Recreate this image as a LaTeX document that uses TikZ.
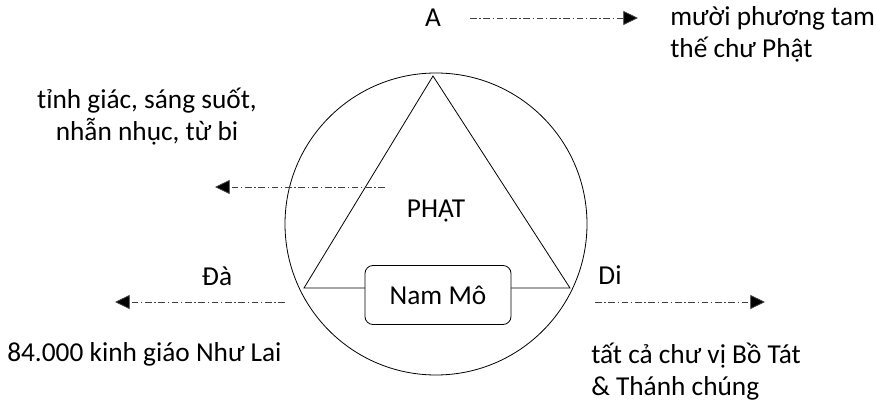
\documentclass[tikz,border=0pt]{standalone}
\usepackage{fontspec}
\setmainfont{Carlito}
\usetikzlibrary{arrows.meta}
\begin{document}
\begin{tikzpicture}[x=0.75pt,y=-0.75pt,
  lbl/.style={font=\fontsize{20.5}{24}\selectfont, inner sep=0pt},
  lblL/.style={lbl, align=left, anchor=west},
  lblC/.style={lbl, align=center},
  ddarrow/.style={draw=black!75, line width=0.6pt, dash pattern=on 5pt off 2pt on 1pt off 2pt, -{Triangle[length=11pt,width=10.5pt,fill=black]}},
  outl/.style={draw=black, line width=0.6pt}]
\useasboundingbox (0,0) rectangle (876,406);
% circle and triangle
\node[outl, circle, minimum size=226.5pt, inner sep=0pt] (circ) at (436,224) {};
\coordinate (apex) at (433,76);
\coordinate (bl) at (304,288);
\coordinate (br) at (570,288);
\draw[outl] (apex) -- (bl) -- (br) -- cycle;
\node[outl, rounded corners=6pt, fill=white, minimum width=109.5pt, minimum height=44.25pt, lbl] (nammo) at (438,295) {Nam Mô};
\node[lbl] (phat) at (436,211) {PHẬT};
% top arrow
\node[lbl] (A) at (433,18) {A};
\coordinate (a1) at (470,18);
\coordinate (a2) at (638,18);
\draw[ddarrow] (a1) -- (a2);
\node[lblL] (tam) at (670,34) {mười phương tam\\thế chư Phật};
% left upper arrow
\coordinate (b1) at (385,187);
\coordinate (b2) at (215,187);
\draw[ddarrow] (b1) -- (b2);
\node[lblC] (tinh) at (147,117) {tỉnh giác, sáng suốt,\\nhẫn nhục, từ bi};
% Da arrow
\node[lbl] (da) at (217,276) {Đà};
\coordinate (c1) at (285,302);
\coordinate (c2) at (115,302);
\draw[ddarrow] (c1) -- (c2);
\node[lblL] (kinh) at (7,354) {84.000 kinh giáo Như Lai};
% Di arrow
\node[lbl] (di) at (610,275) {Di};
\coordinate (d1) at (595,302);
\coordinate (d2) at (765,302);
\draw[ddarrow] (d1) -- (d2);
\node[lblL] (bo) at (591,372) {tất cả chư vị Bồ Tát\\\& Thánh chúng};
\end{tikzpicture}
\end{document}
